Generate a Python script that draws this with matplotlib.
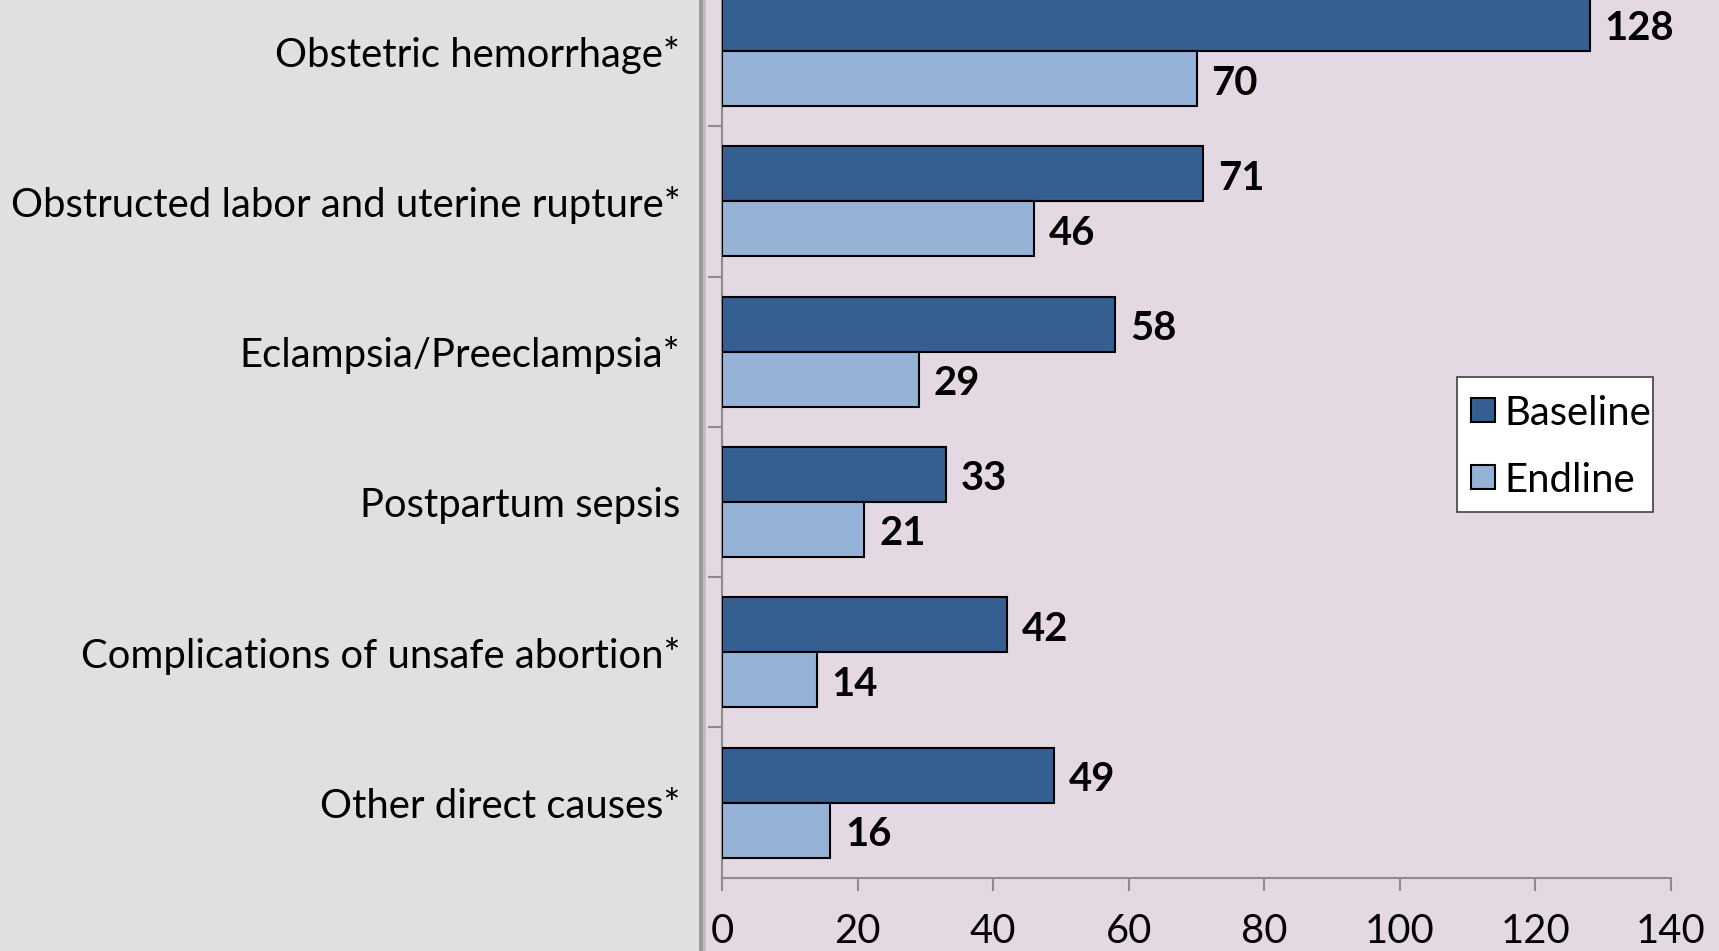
import matplotlib.pyplot as plt
from matplotlib.patches import Rectangle
import numpy as np

# Data
causes = ['Obstetric hemorrhage*',
          'Obstructed labor and uterine rupture*',
          'Eclampsia/Preeclampsia*',
          'Postpartum sepsis',
          'Complications of unsafe abortion*',
          'Other direct causes*']
baseline = [128, 71, 58, 33, 42, 49]
endline = [70, 46, 29, 21, 14, 16]
xticks = [0, 20, 40, 60, 80, 100, 120, 140]
series = ['Baseline', 'Endline']
colors = ['#355F91', '#95B3D7']

plt.rcParams['font.family'] = ['Lato', 'DejaVu Sans']
FS = 28.8

W, H = 1719, 951
fig = plt.figure(figsize=(W / 100, H / 100), dpi=100)
fig.patch.set_facecolor('#E0E0E0')

# pink plot panel and the shadow line on its left edge
fig.patches.append(Rectangle((705 / W, 0), 1 - 705 / W, 1, transform=fig.transFigure,
                             fc='#E4D9E3', ec='none', zorder=-5))
fig.patches.append(Rectangle((699 / W, 0), 4 / W, 1, transform=fig.transFigure,
                             fc='#9A9A9A', ec='none', zorder=-5))
fig.patches.append(Rectangle((703 / W, 0), 3 / W, 1, transform=fig.transFigure,
                             fc='#C4BCC3', ec='none', zorder=-5))

ax = fig.add_axes([722 / W, (H - 877.7) / H, 949 / W, 901.8 / H])
ax.set_facecolor('none')

n = len(causes)
centers = np.arange(n)[::-1] + 0.5
h = 0.366
ax.barh(centers + h / 2, baseline, height=h, color=colors[0], ec='black', lw=1.5,
        zorder=3)
ax.barh(centers - h / 2, endline, height=h, color=colors[1], ec='black', lw=1.5,
        zorder=3)

for c, b, e in zip(centers, baseline, endline):
    ax.text(b + 2.2, c + h / 2 - 0.03, str(b), va='center', ha='left',
            fontsize=FS, fontweight='bold')
    ax.text(e + 2.2, c - h / 2 - 0.03, str(e), va='center', ha='left',
            fontsize=FS, fontweight='bold')

ax.set_xlim(0, 140)
ax.set_ylim(0, n)
ax.set_xticks(xticks)
ax.set_xticklabels([str(t) for t in xticks], fontsize=FS)
ax.set_yticks(np.arange(1, n + 1))
ax.set_yticklabels([])
ax.set_yticks(centers, minor=True)
ax.set_yticklabels(causes, minor=True, fontsize=FS)
ax.tick_params(axis='y', which='minor', length=0, pad=30)
ax.tick_params(axis='y', which='major', length=10, width=1.5, color='#8C8C8C')
ax.tick_params(axis='x', length=9.5, width=1.5, color='#8C8C8C', pad=16)

for s in ['top', 'right']:
    ax.spines[s].set_visible(False)
for s in ['left', 'bottom']:
    ax.spines[s].set_color('#8C8C8C')
    ax.spines[s].set_linewidth(1.5)

# legend box drawn by hand (pixel layout, figure coords)
fig.patches.append(Rectangle((1457 / W, 1 - 512 / H), 196 / W, 135 / H,
                             transform=fig.transFigure, fc='white', ec='#404040',
                             lw=1.2, zorder=5))
for i, (name, col) in enumerate(zip(series, colors)):
    yc = 410 + i * 67
    fig.patches.append(Rectangle((1471 / W, 1 - (yc + 12) / H), 24 / W, 24 / H,
                                 transform=fig.transFigure, fc=col, ec='black',
                                 lw=1.5, zorder=6))
    fig.text(1504 / W, 1 - yc / H, name, fontsize=FS, va='center_baseline',
             ha='left', zorder=7)

fig.savefig('out.png', dpi=100, facecolor=fig.get_facecolor())
